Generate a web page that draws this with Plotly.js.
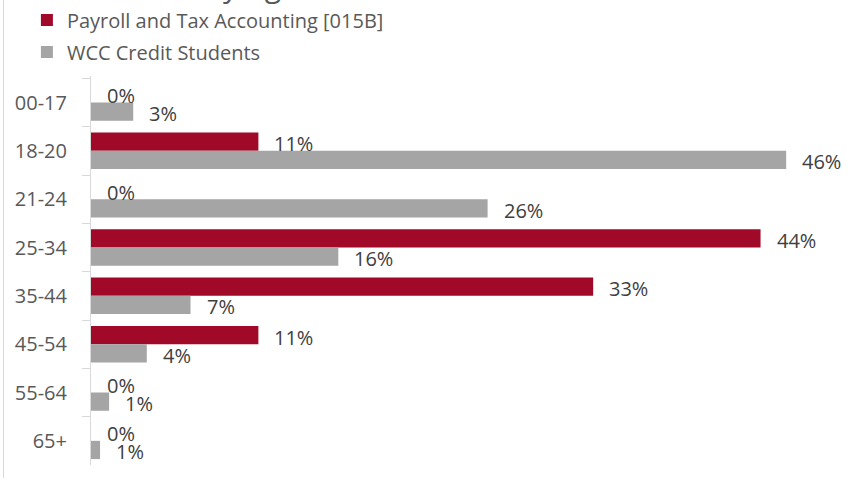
<!DOCTYPE html>
<html>
<head>
<meta charset="utf-8">
<script src="https://cdn.plot.ly/plotly-3.0.1.min.js"></script>
<style>
  html, body { margin: 0; padding: 0; background: #ffffff; }
  #wrap { position: relative; width: 852px; height: 478px; overflow: hidden; }
  #chart { width: 852px; height: 478px; }
  #edge { position: absolute; left: 3px; top: 0; width: 0; height: 478px; border-left: 1px solid #d9d9d9; }
</style>
</head>
<body>
<div id="wrap"><div id="chart"></div><div id="edge"></div></div>
<script>
const categories = ["00-17", "18-20", "21-24", "25-34", "35-44", "45-54", "55-64", "65+"];
const seriesNames = ["Payroll and Tax Accounting [015B]", "WCC Credit Students"];
const payrollValues = [0, 11.1, 0, 44.4, 33.3, 11.1, 0, 0];
const wccValues = [2.8, 46.1, 26.3, 16.4, 6.6, 3.7, 1.2, 0.6];
const titleText = "Student Enrollment by Age";

const RED = "#a00a28";
const GRAY = "#a5a5a5";
const FONT = "Open Sans, Noto Sans, DejaVu Sans, sans-serif";

const traces = [
  { type: "bar", orientation: "h", name: seriesNames[0], y: categories, x: payrollValues,
    marker: { color: RED }, legendgroup: "a", hoverinfo: "skip" },
  { type: "bar", orientation: "h", name: seriesNames[1], y: categories, x: wccValues,
    marker: { color: GRAY }, legendgroup: "b", hoverinfo: "skip" }
];

const annotations = [];
function addLabels(vals, yshift) {
  vals.forEach((v, i) => {
    annotations.push({
      xref: "x", yref: "y", x: v, y: categories[i],
      text: Math.round(v) + "%", showarrow: false,
      xanchor: "left", yanchor: "middle", xshift: 14, yshift: yshift,
      font: { family: FONT, size: 20, color: "#404040" }
    });
  });
}
addLabels(payrollValues, 7);
addLabels(wccValues, -11);

annotations.push({
  xref: "paper", yref: "paper", x: 0.277, y: 1.176, xanchor: "right", yanchor: "bottom",
  text: titleText, showarrow: false,
  font: { family: FONT, size: 30, color: "#595959" }
});

const layout = {
  width: 852, height: 478,
  margin: { l: 91, r: 7, t: 76, b: 13, autoexpand: false },
  paper_bgcolor: "#ffffff", plot_bgcolor: "#ffffff",
  barmode: "group", bargap: 0.245, bargroupgap: 0,
  font: { family: FONT, size: 20, color: "#595959" },
  showlegend: true,
  legend: {
    x: -0.085, y: 1.194, xanchor: "left", yanchor: "top",
    orientation: "v", traceorder: "grouped", tracegroupgap: 3,
    font: { family: FONT, size: 20, color: "#595959" },
    bgcolor: "rgba(0,0,0,0)"
  },
  xaxis: { range: [0, 50], visible: false, fixedrange: true },
  yaxis: {
    type: "category", autorange: "reversed",
    showline: true, linecolor: "#d9d9d9", linewidth: 1,
    ticks: "outside", tickson: "boundaries", ticklen: 8, tickcolor: "#d9d9d9",
    ticklabelstandoff: 19,
    tickfont: { family: FONT, size: 20, color: "#595959" },
    showgrid: false, zeroline: false, fixedrange: true
  },
  annotations: annotations
};

Plotly.newPlot("chart", traces, layout, { displayModeBar: false, staticPlot: true });
</script>
</body>
</html>
